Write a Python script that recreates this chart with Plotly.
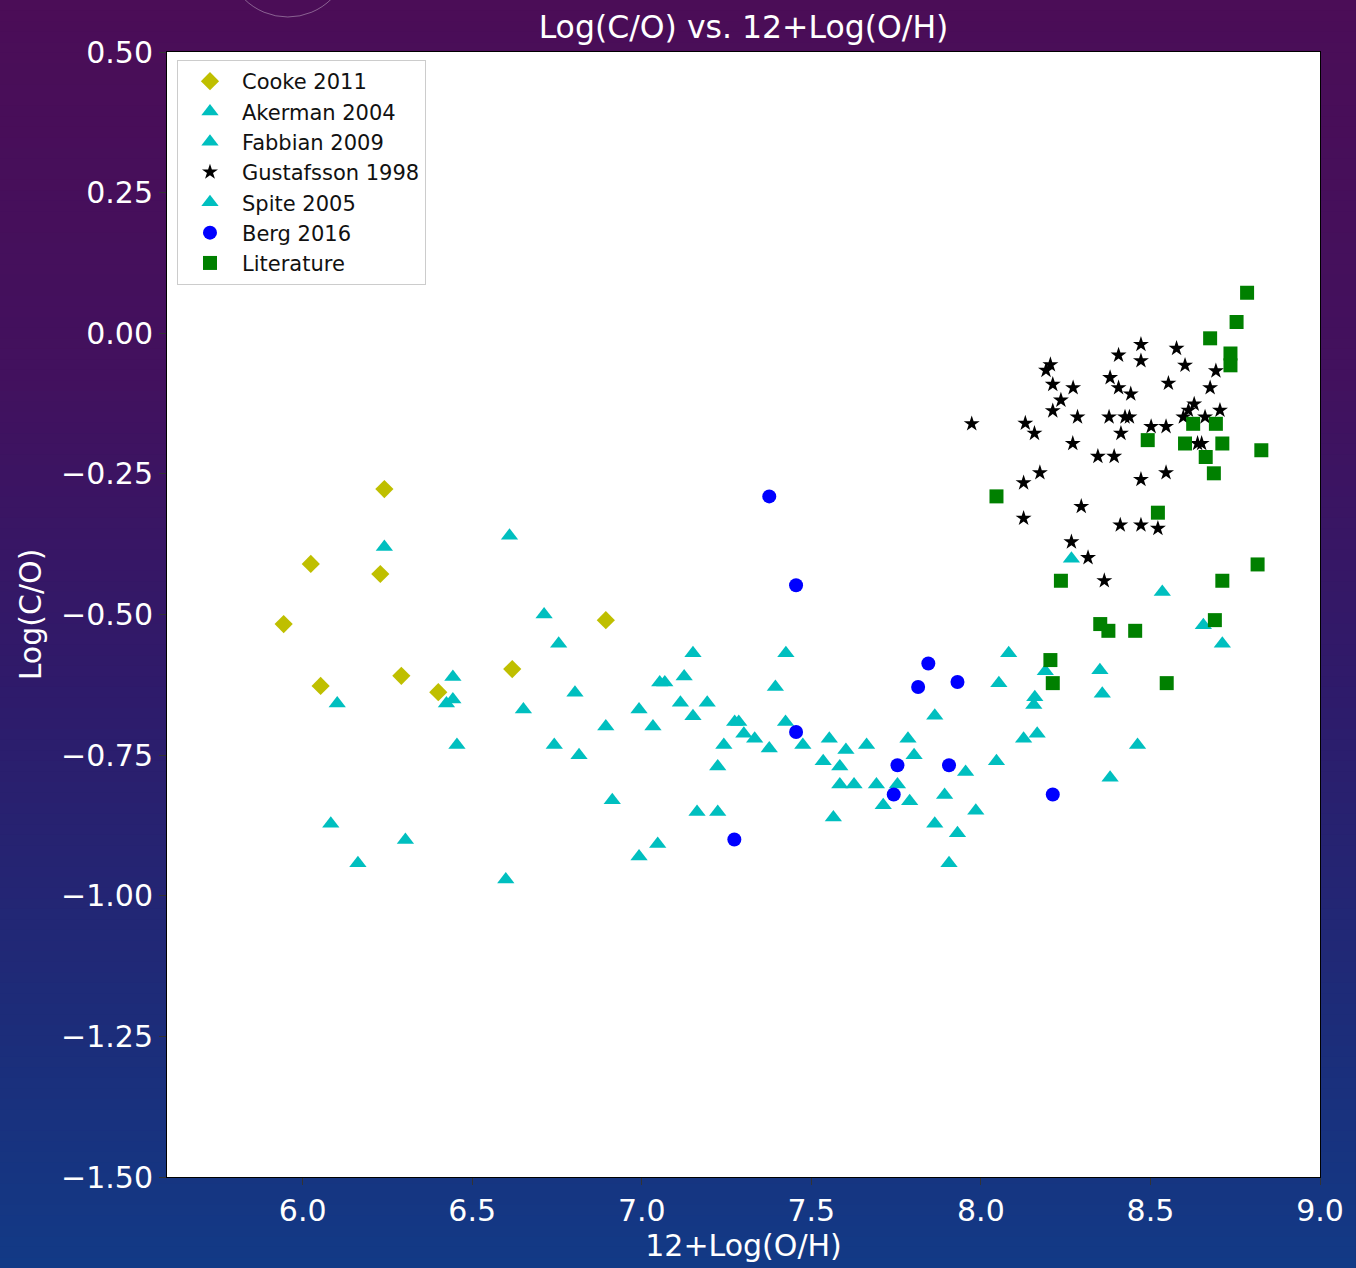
import plotly.graph_objects as go

# ---------------- data ----------------
cooke_x = [5.944, 6.024, 6.241, 6.229, 6.053, 6.291, 6.400, 6.618, 6.894]
cooke_y = [-0.517, -0.410, -0.277, -0.428, -0.627, -0.609, -0.638, -0.597, -0.510]

akerman_x = [7.553, 7.602, 7.663, 7.535, 7.584, 7.584, 7.626, 7.692, 7.565, 7.712, 7.754,
             7.790, 7.785, 7.803, 7.955, 7.893, 7.864, 7.931, 7.985, 7.906, 7.864,
             8.082, 8.053, 8.046, 8.126, 8.159, 8.156, 8.166, 8.267, 8.535, 8.656,
             8.712, 8.190, 8.351, 8.358, 8.462, 8.381]
akerman_y = [-0.721, -0.741, -0.732, -0.761, -0.770, -0.802, -0.802, -0.802, -0.861, -0.839, -0.802,
             -0.832, -0.721, -0.750, -0.780, -0.821, -0.872, -0.889, -0.849, -0.942, -0.680,
             -0.569, -0.622, -0.761, -0.721, -0.647, -0.661, -0.712, -0.401, -0.460, -0.519,
             -0.552, -0.601, -0.599, -0.641, -0.732, -0.790]

fabbian_x = [6.712, 6.755, 6.803, 6.742, 6.815, 6.894, 6.913, 6.992, 7.033, 7.053, 7.068,
             7.125, 7.151, 7.114, 7.193, 7.151, 7.274, 7.286, 7.301, 7.333, 7.242, 7.376,
             7.224, 7.425, 7.394, 7.424, 7.475, 7.163, 7.224, 7.047, 6.992]
fabbian_y = [-0.500, -0.552, -0.639, -0.732, -0.750, -0.699, -0.830, -0.669, -0.699, -0.621, -0.621,
             -0.610, -0.569, -0.657, -0.657, -0.681, -0.691, -0.691, -0.712, -0.721, -0.732, -0.738,
             -0.770, -0.569, -0.629, -0.691, -0.732, -0.851, -0.851, -0.908, -0.930]

gustafsson_x = [7.973, 8.131, 8.158, 8.205, 8.192, 8.212, 8.272, 8.236, 8.212, 8.285, 8.271,
                8.126, 8.174, 8.126, 8.296, 8.267, 8.316, 8.364, 8.406, 8.472, 8.472, 8.381,
                8.406, 8.442, 8.378, 8.425, 8.438, 8.413, 8.345, 8.393, 8.472, 8.546, 8.502,
                8.546, 8.411, 8.472, 8.522, 8.577, 8.602, 8.553, 8.693, 8.676, 8.629, 8.612,
                8.597, 8.661, 8.705, 8.639, 8.651]
gustafsson_y = [-0.161, -0.160, -0.178, -0.056, -0.066, -0.091, -0.097, -0.119, -0.138, -0.149, -0.196,
                -0.266, -0.248, -0.329, -0.308, -0.371, -0.399, -0.440, -0.039, -0.020, -0.049, -0.079,
                -0.097, -0.108, -0.149, -0.149, -0.149, -0.178, -0.219, -0.219, -0.260, -0.248, -0.166,
                -0.166, -0.341, -0.341, -0.347, -0.027, -0.057, -0.089, -0.067, -0.097, -0.126, -0.137,
                -0.149, -0.149, -0.137, -0.196, -0.196]

spite_x = [6.241, 6.610, 6.443, 6.102, 6.443, 6.424, 6.455, 6.083, 6.303, 6.163, 6.599, 6.651]
spite_y = [-0.380, -0.360, -0.611, -0.658, -0.651, -0.658, -0.732, -0.872, -0.901, -0.942, -0.971, -0.669]

berg_x = [7.376, 7.455, 7.455, 7.273, 7.845, 7.815, 7.931, 7.754, 7.743, 7.906, 8.212]
berg_y = [-0.290, -0.448, -0.709, -0.900, -0.587, -0.629, -0.620, -0.768, -0.820, -0.768, -0.820]

lit_x = [8.785, 8.754, 8.676, 8.736, 8.736, 8.626, 8.693, 8.492, 8.602, 8.712, 8.827, 8.663,
         8.687, 8.046, 8.522, 8.236, 8.712, 8.816, 8.352, 8.376, 8.455, 8.690, 8.205, 8.212, 8.548]
lit_y = [0.072, 0.020, -0.009, -0.036, -0.057, -0.161, -0.161, -0.190, -0.196, -0.196, -0.208, -0.220,
         -0.249, -0.290, -0.319, -0.440, -0.440, -0.411, -0.517, -0.529, -0.529, -0.510, -0.581, -0.622, -0.622]

x_ticks = [6.0, 6.5, 7.0, 7.5, 8.0, 8.5, 9.0]
y_ticks = [0.5, 0.25, 0.0, -0.25, -0.5, -0.75, -1.0, -1.25, -1.5]

FONT = "DejaVu Sans"

fig = go.Figure()

series = [
    ("Cooke 2011", cooke_x, cooke_y, "diamond", "#bfbf00", 14),
    ("Akerman 2004", akerman_x, akerman_y, "triangle-up", "#00bfbf", 15),
    ("Fabbian 2009", fabbian_x, fabbian_y, "triangle-up", "#00bfbf", 15),
    ("Gustafsson 1998", gustafsson_x, gustafsson_y, "star", "#000000", 12),
    ("Spite 2005", spite_x, spite_y, "triangle-up", "#00bfbf", 15),
    ("Berg 2016", berg_x, berg_y, "circle", "#0000ff", 14),
    ("Literature", lit_x, lit_y, "square", "#008000", 14),
]
for i, (name, xs, ys, sym, col, sz) in enumerate(series):
    fig.add_trace(go.Scatter(
        x=xs, y=ys, mode="markers", name=name, legendgroup=f"g{i}",
        marker=dict(symbol=sym, color=col, size=sz, line=dict(width=0)),
    ))

# background gradient (purple top -> blue bottom)
stops = [(0.0, (75, 13, 87)), (0.3, (66, 17, 94)), (0.55, (46, 27, 107)),
         (0.8, (29, 44, 121)), (1.0, (18, 58, 134))]

def col_at(t):
    for (t0, c0), (t1, c1) in zip(stops[:-1], stops[1:]):
        if t0 <= t <= t1:
            f = (t - t0) / (t1 - t0)
            return "rgb(%d,%d,%d)" % tuple(round(a + (b - a) * f) for a, b in zip(c0, c1))
    return "rgb(%d,%d,%d)" % stops[-1][1]

W, H = 1356, 1268
L, R, T, B = 167, 34, 52, 91
pw, ph = W - L - R, H - T - B

def px2x(px):
    return (px - L) / pw

def py2y(py):
    return (H - B - py) / ph

shapes = []
N = 120
for k in range(N):
    py0 = H * k / N
    py1 = H * (k + 1) / N + 1
    shapes.append(dict(type="rect", xref="paper", yref="paper", layer="below",
                       x0=px2x(-2), x1=px2x(W + 2), y0=py2y(py1), y1=py2y(py0),
                       fillcolor=col_at((k + 0.5) / N), line=dict(width=0)))
# white plotting area
shapes.append(dict(type="rect", xref="paper", yref="paper", layer="below",
                   x0=0, x1=1, y0=0, y1=1, fillcolor="white", line=dict(width=0)))
# faint decorative circle at top
shapes.append(dict(type="circle", xref="paper", yref="paper", layer="below",
                   x0=px2x(226), x1=px2x(350), y0=py2y(17), y1=py2y(-107),
                   line=dict(color="rgba(255,255,255,0.35)", width=1)))

fig.update_layout(
    width=W, height=H,
    margin=dict(l=L, r=R, t=T, b=B),
    paper_bgcolor="rgb(40,30,100)",
    plot_bgcolor="white",
    shapes=shapes,
    font=dict(family=FONT, color="white"),
    title=dict(text="Log(C/O) vs. 12+Log(O/H)", x=0.5, xref="paper", xanchor="center",
               y=1 - 27 / H, yref="container", yanchor="middle",
               font=dict(family=FONT, size=31.5, color="white")),
    showlegend=True,
    legend=dict(x=px2x(177), y=py2y(60), xanchor="left", yanchor="top",
                bgcolor="white", bordercolor="#cccccc", borderwidth=1,
                font=dict(family=FONT, size=21, color="#111111"),
                itemwidth=54, tracegroupgap=0),
    xaxis=dict(range=[5.6, 9.0], tickvals=x_ticks, tickformat=".1f",
               showgrid=False, zeroline=False, showline=True, linecolor="black",
               linewidth=1, mirror=True, ticks="outside", ticklen=7, tickcolor="#333333",
               tickfont=dict(family=FONT, size=30, color="white"),
               title=dict(text="12+Log(O/H)", font=dict(family=FONT, size=30, color="white"),
                          standoff=6)),
    yaxis=dict(range=[-1.5, 0.5], tickvals=y_ticks, tickformat=".2f",
               showgrid=False, zeroline=False, showline=True, linecolor="black",
               linewidth=1, mirror=True, ticks="outside", ticklen=7, tickcolor="#333333",
               tickfont=dict(family=FONT, size=30, color="white"),
               title=dict(text="Log(C/O)", font=dict(family=FONT, size=30, color="white"),
                          standoff=10)),
)

fig.write_html("out.html", config={"displayModeBar": False},
               post_script="document.body.style.margin='0';document.body.style.overflow='hidden';")
